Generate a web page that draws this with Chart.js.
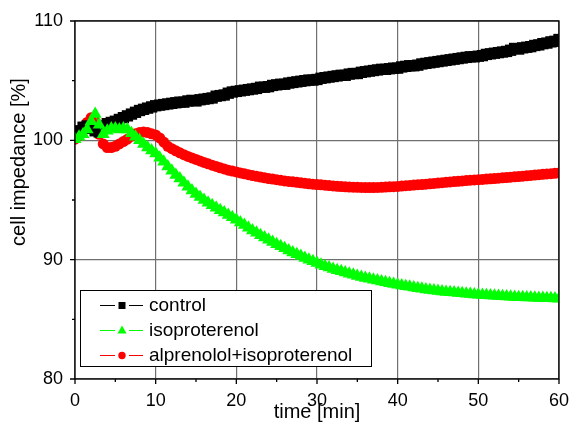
<!DOCTYPE html>
<html>
<head>
<meta charset="utf-8">
<title>cell impedance</title>
<script src="https://cdn.jsdelivr.net/npm/chart.js"></script>
<style>
    body { margin: 0; background: #fff; }
    #wrap { width: 574px; height: 426px; }
</style>
</head>
<body>
<div id="wrap"><canvas id="chart" width="574" height="426"></canvas></div>
<script>
// Datos (tiempo en minutos, impedancia en %)
const times = [
    0, 0.5, 1, 1.5, 2, 2.5, 3, 3.5, 4, 4.5, 5, 5.5, 6, 6.5, 7, 7.5, 8, 8.5, 9, 9.5,
    10, 10.5, 11, 11.5, 12, 12.5, 13, 13.5, 14, 14.5, 15, 15.5, 16, 16.5, 17, 17.5, 18, 18.5, 19, 19.5,
    20, 20.5, 21, 21.5, 22, 22.5, 23, 23.5, 24, 24.5, 25, 25.5, 26, 26.5, 27, 27.5, 28, 28.5, 29, 29.5,
    30, 30.5, 31, 31.5, 32, 32.5, 33, 33.5, 34, 34.5, 35, 35.5, 36, 36.5, 37, 37.5, 38, 38.5, 39, 39.5,
    40, 40.5, 41, 41.5, 42, 42.5, 43, 43.5, 44, 44.5, 45, 45.5, 46, 46.5, 47, 47.5, 48, 48.5, 49, 49.5,
    50, 50.5, 51, 51.5, 52, 52.5, 53, 53.5, 54, 54.5, 55, 55.5, 56, 56.5, 57, 57.5, 58, 58.5, 59, 59.5,
    60
];

const control = [
    100.7, 100.8, 101.1, 101.2, 101.0, 100.8, 100.7, 101.2, 101.4, 101.5, 101.6, 101.75, 101.9, 102.05, 102.2, 102.35, 102.5, 102.6, 102.7, 102.8,
    102.9, 102.95, 103.0, 103.05, 103.1, 103.15, 103.2, 103.2, 103.3, 103.35, 103.3, 103.4, 103.45, 103.5, 103.55, 103.7, 103.75, 103.8, 103.95, 104.05,
    104.1, 104.15, 104.2, 104.25, 104.3, 104.35, 104.45, 104.45, 104.5, 104.6, 104.65, 104.7, 104.7, 104.8, 104.85, 104.9, 104.95, 105.0, 105.05, 105.05,
    105.1, 105.2, 105.25, 105.3, 105.35, 105.4, 105.45, 105.45, 105.55, 105.6, 105.6, 105.7, 105.75, 105.8, 105.85, 105.9, 105.95, 105.95, 106.0, 106.05,
    106.05, 106.15, 106.2, 106.25, 106.25, 106.3, 106.4, 106.45, 106.5, 106.55, 106.6, 106.65, 106.7, 106.75, 106.8, 106.85, 106.9, 106.95, 107.0, 107.0,
    107.05, 107.1, 107.2, 107.25, 107.3, 107.35, 107.4, 107.45, 107.55, 107.7, 107.65, 107.75, 107.8, 107.85, 107.95, 108.0, 108.1, 108.15, 108.25, 108.3,
    108.45
];

const isoproterenol = [
    100.1, 100.3, 100.5, 100.9, 101.6, 102.2, 101.3, 100.5, 100.8, 101.0, 101.0, 100.9, 101.0, 100.9, 100.6, 100.3, 100.0, 99.7, 99.4, 99.15,
    98.9, 98.55, 98.2, 97.8, 97.45, 97.1, 96.8, 96.45, 96.1, 95.8, 95.5, 95.25, 95.0, 94.78, 94.56, 94.35, 94.15, 93.95, 93.75, 93.55,
    93.35, 93.12, 92.9, 92.67, 92.45, 92.25, 92.05, 91.86, 91.67, 91.48, 91.3, 91.12, 90.95, 90.77, 90.6, 90.45, 90.3, 90.15, 90.0, 89.86,
    89.72, 89.58, 89.45, 89.35, 89.22, 89.12, 89.02, 88.92, 88.82, 88.73, 88.64, 88.55, 88.47, 88.4, 88.32, 88.25, 88.17, 88.1, 88.03, 87.97,
    87.9, 87.84, 87.78, 87.72, 87.66, 87.61, 87.56, 87.51, 87.46, 87.42, 87.38, 87.34, 87.3, 87.27, 87.24, 87.21, 87.18, 87.15, 87.12, 87.09,
    87.07, 87.04, 87.02, 87.0, 86.98, 86.96, 86.94, 86.92, 86.9, 86.88, 86.86, 86.85, 86.83, 86.82, 86.8, 86.79, 86.78, 86.77, 86.76, 86.74,
    86.73
];

const alprenololIso = [
    100.1, 100.4, 100.9, 101.5, 101.9, 101.6, 100.5, 99.7, 99.4, 99.4, 99.5, 99.7, 99.9, 100.1, 100.35, 100.55, 100.65, 100.7, 100.65, 100.55,
    100.45, 100.2, 99.85, 99.5, 99.3, 99.12, 98.95, 98.8, 98.65, 98.53, 98.4, 98.27, 98.15, 98.03, 97.92, 97.81, 97.7, 97.6, 97.5, 97.42,
    97.35, 97.27, 97.2, 97.12, 97.05, 96.98, 96.92, 96.86, 96.8, 96.75, 96.7, 96.65, 96.6, 96.56, 96.52, 96.48, 96.44, 96.4, 96.36, 96.33,
    96.3, 96.27, 96.24, 96.21, 96.18, 96.15, 96.13, 96.11, 96.09, 96.07, 96.06, 96.05, 96.04, 96.04, 96.04, 96.05, 96.06, 96.08, 96.1, 96.12,
    96.14, 96.17, 96.2, 96.22, 96.25, 96.28, 96.3, 96.33, 96.36, 96.39, 96.42, 96.45, 96.48, 96.51, 96.54, 96.57, 96.6, 96.63, 96.66, 96.68,
    96.7, 96.72, 96.75, 96.78, 96.8, 96.83, 96.86, 96.88, 96.91, 96.94, 96.97, 97.0, 97.03, 97.06, 97.09, 97.12, 97.15, 97.18, 97.21, 97.24,
    97.27
];

const seriesNames = ['control', 'isoproterenol', 'alprenolol+isoproterenol'];
const xTicks = [0, 10, 20, 30, 40, 50, 60];
const yTicks = [80, 90, 100, 110];

const FONT = 'Arial, "Liberation Sans", sans-serif';

function toPoints(values) {
    return values.map((v, i) => ({ x: times[i], y: v }));
}

// Marco, marcas de los ejes, títulos y leyenda
const framePlugin = {
    id: 'frame',
    afterDatasetsDraw(chart) {
        const ctx = chart.ctx;
        const area = chart.chartArea;
        const xs = chart.scales.x;
        const ys = chart.scales.y;

        ctx.save();
        ctx.strokeStyle = '#000';
        ctx.lineWidth = 1.3;
        ctx.strokeRect(area.left, area.top, area.right - area.left, area.bottom - area.top);

        // marcas mayores y menores hacia fuera
        ctx.beginPath();
        for (let v = 0; v <= 60; v += 5) {
            const px = xs.getPixelForValue(v);
            const len = v % 10 === 0 ? 5 : 3;
            ctx.moveTo(px, area.bottom);
            ctx.lineTo(px, area.bottom + len);
        }
        for (let v = 80; v <= 110; v += 5) {
            const py = ys.getPixelForValue(v);
            const len = v % 10 === 0 ? 5 : 3;
            ctx.moveTo(area.left, py);
            ctx.lineTo(area.left - len, py);
        }
        ctx.stroke();

        // títulos de los ejes
        ctx.fillStyle = '#000';
        ctx.font = '20px ' + FONT;
        ctx.textAlign = 'center';
        ctx.textBaseline = 'middle';
        ctx.fillText('time [min]', (area.left + area.right) / 2, 412);

        ctx.save();
        ctx.translate(19, 162);
        ctx.rotate(-Math.PI / 2);
        ctx.fillText('cell impedance [%]', 0, 0);
        ctx.restore();

        // leyenda
        ctx.fillStyle = '#fff';
        ctx.fillRect(80, 290, 291, 76);
        ctx.lineWidth = 1;
        ctx.strokeStyle = '#000';
        ctx.strokeRect(80.5, 290.5, 291, 76);

        const rows = [305, 330, 355];
        chart.data.datasets.forEach((ds, i) => {
            const y = rows[i];
            ctx.strokeStyle = ds.borderColor;
            ctx.lineWidth = 1;
            ctx.beginPath();
            ctx.moveTo(100, y + 0.5);
            ctx.lineTo(115, y + 0.5);
            ctx.moveTo(129, y + 0.5);
            ctx.lineTo(143, y + 0.5);
            ctx.stroke();

            ctx.fillStyle = ds.pointBackgroundColor;
            ctx.beginPath();
            if (ds.pointStyle === 'rect') {
                ctx.rect(118.5, y - 3, 7, 7);
            } else if (ds.pointStyle === 'triangle') {
                ctx.moveTo(122, y - 4.5);
                ctx.lineTo(126.5, y + 3.5);
                ctx.lineTo(117.5, y + 3.5);
                ctx.closePath();
            } else {
                ctx.arc(122, y + 0.5, 3.7, 0, Math.PI * 2);
            }
            ctx.fill();

            ctx.fillStyle = '#000';
            ctx.font = '19px ' + FONT;
            ctx.textAlign = 'left';
            ctx.textBaseline = 'middle';
            ctx.fillText(ds.label, 149, y + 1);
        });
        ctx.restore();
    }
};

const ctx = document.getElementById('chart').getContext('2d');
new Chart(ctx, {
    type: 'line',
    data: {
        datasets: [
            {
                label: seriesNames[0],
                data: toPoints(control),
                borderColor: '#000000',
                pointBackgroundColor: '#000000',
                pointStyle: 'rect',
                pointRadius: 8,
                order: 1
            },
            {
                label: seriesNames[1],
                data: toPoints(isoproterenol),
                borderColor: '#00ff00',
                pointBackgroundColor: '#00ff00',
                pointStyle: 'triangle',
                pointRadius: 7.5,
                order: 0
            },
            {
                label: seriesNames[2],
                data: toPoints(alprenololIso),
                borderColor: '#ff0000',
                pointBackgroundColor: '#ff0000',
                pointStyle: 'circle',
                pointRadius: 5.5,
                order: 2
            }
        ]
    },
    options: {
        responsive: false,
        animation: false,
        devicePixelRatio: 1,
        events: [],
        elements: {
            line: { borderWidth: 1, tension: 0 },
            point: { borderWidth: 0, hoverRadius: 0 }
        },
        datasets: { line: { clip: 0 } },
        layout: { padding: { top: 21, right: 11, left: 0, bottom: 0 } },
        plugins: {
            legend: { display: false },
            tooltip: { enabled: false }
        },
        scales: {
            x: {
                type: 'linear',
                min: 0,
                max: 60,
                afterBuildTicks: (scale) => { scale.ticks = xTicks.map(v => ({ value: v })); },
                afterFit: (scale) => { scale.height = 47; },
                ticks: { color: '#000', font: { size: 18, family: FONT }, padding: 5, maxRotation: 0, autoSkip: false },
                grid: { color: '#707070', lineWidth: 1.2, tickLength: 6, tickColor: 'rgba(0,0,0,0)' },
                border: { display: false }
            },
            y: {
                type: 'linear',
                min: 80,
                max: 110,
                afterBuildTicks: (scale) => { scale.ticks = yTicks.map(v => ({ value: v })); },
                afterFit: (scale) => { scale.width = 75; },
                ticks: { color: '#000', font: { size: 18, family: FONT }, padding: 6, autoSkip: false },
                grid: { color: '#707070', lineWidth: 1.2, tickLength: 6, tickColor: 'rgba(0,0,0,0)' },
                border: { display: false }
            }
        }
    },
    plugins: [framePlugin]
});
</script>
</body>
</html>
